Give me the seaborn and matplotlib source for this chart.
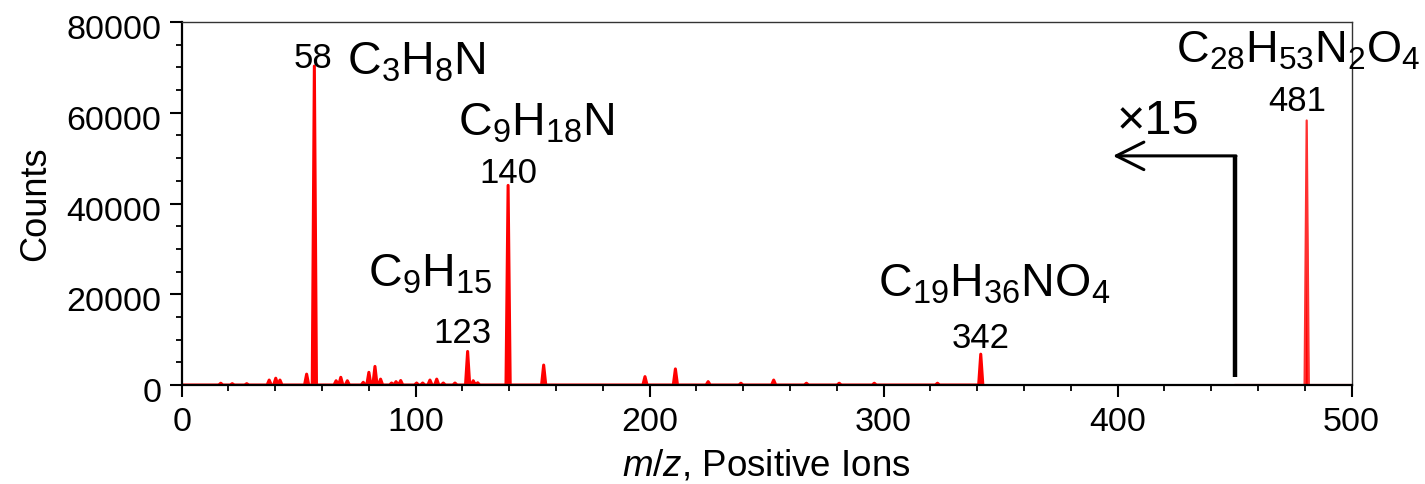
import numpy as np
import pandas as pd
import matplotlib
matplotlib.use("Agg")
import matplotlib.pyplot as plt
import matplotlib.transforms as mtransforms
from matplotlib.ticker import MultipleLocator
import seaborn as sns

# ---- data ----
peak_mz = [16.7, 21.6, 27.8, 37.4, 40.2, 42.0, 53.4, 56.7, 66.0, 68.0, 70.8, 77.6,
           80.0, 82.6, 85.0, 89.7, 91.6, 93.6, 100.4, 103.0, 106.1, 109.0, 111.8,
           116.8, 122.2, 124.6, 126.5, 139.5, 154.7, 198.0, 211.0, 225.0, 239.0,
           253.0, 267.0, 281.0, 296.0, 323.0, 341.5, 480.8]
peak_counts = [400, 300, 300, 1100, 1500, 1100, 2400, 70300, 950, 1700, 950, 600,
               2800, 4100, 1300, 450, 750, 1000, 450, 450, 1100, 1300, 450,
               450, 7400, 950, 500, 44000, 4400, 1850, 3550, 750, 400,
               1100, 400, 400, 400, 400, 6800, 58300]

# labelled ions
ion_label = ["58", "140", "123", "342", "481"]
ion_formula = [r"C$_\mathregular{3}$H$_\mathregular{8}$N",
               r"C$_\mathregular{9}$H$_\mathregular{18}$N",
               r"C$_\mathregular{9}$H$_\mathregular{15}$",
               r"C$_\mathregular{19}$H$_\mathregular{36}$NO$_\mathregular{4}$",
               r"C$_\mathregular{28}$H$_\mathregular{53}$N$_\mathregular{2}$O$_\mathregular{4}$"]

scale_factor_text = "\u00d715"
scale_start_mz = 450
arrow_end_mz = 398
arrow_level = 50500
bar_bottom = 1850

x_range = (0, 500)
y_range = (0, 80000)

# ---- build stick spectrum polyline ----
half_width = 0.9
xs, ys = [x_range[0]], [0]
for m, c in sorted(zip(peak_mz, peak_counts)):
    xs += [m - half_width, m, m + half_width]
    ys += [0, c, 0]
xs.append(x_range[1]); ys.append(0)
spec = pd.DataFrame({"mz": xs, "counts": ys})
low = spec[spec.mz <= scale_start_mz]
high = spec[spec.mz >= scale_start_mz]
high = pd.concat([pd.DataFrame({"mz": [scale_start_mz], "counts": [0]}), high])

# ---- style ----
sns.set_theme(style="ticks")
plt.rcParams["font.family"] = ["Liberation Sans", "DejaVu Sans"]
plt.rcParams["mathtext.fontset"] = "custom"
plt.rcParams["mathtext.rm"] = "Liberation Sans"
plt.rcParams["mathtext.it"] = "Liberation Sans:italic"
plt.rcParams["mathtext.bf"] = "Liberation Sans:bold"
for k in ["text.color", "axes.labelcolor", "xtick.color", "ytick.color"]:
    plt.rcParams[k] = "black"

fig = plt.figure(figsize=(14.25, 4.84), dpi=100)
ax = fig.add_axes([0.1275, 0.2045, 0.821, 0.750])

ax.fill_between(low.mz, low.counts, color="red", lw=0)
ax.fill_between(high.mz, high.counts, color="red", lw=0)
sns.lineplot(data=low, x="mz", y="counts", color="red", lw=2.2, sort=False,
             estimator=None, ax=ax)
sns.lineplot(data=high, x="mz", y="counts", color="#ff3030", lw=1.6, sort=False,
             estimator=None, ax=ax)

ax.set_xlim(*x_range)
ax.set_ylim(*y_range)
ax.xaxis.set_major_locator(MultipleLocator(100))
ax.xaxis.set_minor_locator(MultipleLocator(20))
ax.yaxis.set_major_locator(MultipleLocator(20000))
ax.yaxis.set_minor_locator(MultipleLocator(5000))
ax.tick_params(which="major", length=8.5, width=1.5, color="black",
               labelsize=24.5, pad=6)
ax.tick_params(which="minor", length=4.5, width=1.3, color="black")
ax.tick_params(axis="x", which="major", pad=7)
for s in ["left", "bottom"]:
    ax.spines[s].set_linewidth(1.6)
    ax.spines[s].set_color("black")
for s in ["top", "right"]:
    ax.spines[s].set_linewidth(1.0)
    ax.spines[s].set_color("#333333")

# y tick labels sit slightly below their ticks in the reference
shift = mtransforms.ScaledTranslation(0, -5 / 100, fig.dpi_scale_trans)
for lab in ax.get_yticklabels():
    lab.set_transform(lab.get_transform() + shift)

ax.set_ylabel("Counts", fontsize=26, labelpad=10)
ax.set_xlabel(r"$\mathit{m/z}$, Positive Ions", fontsize=26.5, labelpad=8)

# ---- annotations ----
num_fs = 25
form_fs = 33.5
ax.text(56.3, 69800, ion_label[0], fontsize=num_fs, ha="center", va="baseline")
ax.text(70.6, 68500, ion_formula[0], fontsize=form_fs, ha="left", va="baseline")
ax.text(139.6, 44600, ion_label[1], fontsize=num_fs, ha="center", va="baseline")
ax.text(118.0, 54900, ion_formula[1], fontsize=form_fs, ha="left", va="baseline")
ax.text(132.6, 9200, ion_label[2], fontsize=num_fs, ha="right", va="baseline")
ax.text(132.6, 21700, ion_formula[2], fontsize=form_fs, ha="right", va="baseline")
ax.text(341.5, 8100, ion_label[3], fontsize=num_fs, ha="center", va="baseline")
ax.text(297.8, 19500, ion_formula[3], fontsize=form_fs, ha="left", va="baseline")
ax.text(476.8, 60400, ion_label[4], fontsize=num_fs, ha="center", va="baseline")
ax.text(424.8, 71000, ion_formula[4], fontsize=32.5, ha="left", va="baseline",
        clip_on=False)

# x15 marker
ax.plot([scale_start_mz, scale_start_mz], [bar_bottom, arrow_level],
        color="black", lw=3.2, solid_capstyle="butt")
ax.annotate("", xy=(arrow_end_mz, arrow_level), xytext=(scale_start_mz + 0.6, arrow_level),
            arrowprops=dict(arrowstyle="->,head_length=0.9,head_width=0.45",
                            lw=2.2, color="black", mutation_scale=22,
                            shrinkA=0, shrinkB=0))
ax.text(399.4, 55250, scale_factor_text, fontsize=35, ha="left", va="baseline")

fig.savefig("out.png", dpi=100)
